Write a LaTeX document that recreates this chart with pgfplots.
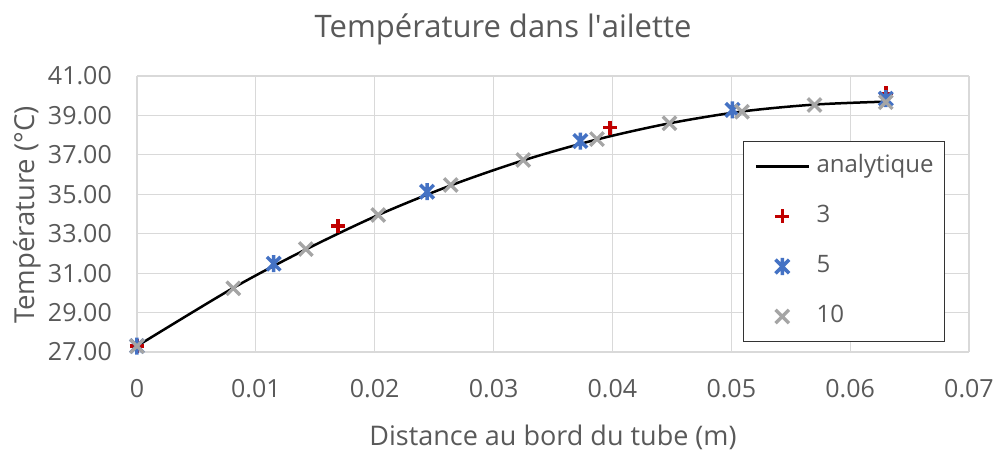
\documentclass[border=0pt]{standalone}
\usepackage{pgfplots}
\pgfplotsset{compat=1.18}
\usepackage{fontspec}
\setmainfont{Open Sans}
\definecolor{txt}{HTML}{595959}
\definecolor{grd}{HTML}{D9D9D9}
\definecolor{cred}{HTML}{C00000}
\definecolor{cblue}{HTML}{4472C4}
\definecolor{cgray}{HTML}{A5A5A5}
\pgfdeclareplotmark{xstar}{%
  \pgfpathmoveto{\pgfqpoint{-0.8\pgfplotmarksize}{-0.8\pgfplotmarksize}}%
  \pgfpathlineto{\pgfqpoint{0.8\pgfplotmarksize}{0.8\pgfplotmarksize}}%
  \pgfpathmoveto{\pgfqpoint{-0.8\pgfplotmarksize}{0.8\pgfplotmarksize}}%
  \pgfpathlineto{\pgfqpoint{0.8\pgfplotmarksize}{-0.8\pgfplotmarksize}}%
  \pgfpathmoveto{\pgfqpoint{0pt}{-\pgfplotmarksize}}%
  \pgfpathlineto{\pgfqpoint{0pt}{\pgfplotmarksize}}%
  \pgfusepathqstroke}
\begin{document}
\begin{tikzpicture}
\useasboundingbox (-137pt,-100pt) rectangle (861pt,352pt);
\begin{axis}[
  at={(0pt,0pt)}, anchor=south west,
  scale only axis, width=832pt, height=276pt,
  xmin=0, xmax=0.07, ymin=27, ymax=41,
  clip=false,
  scaled x ticks=false, scaled y ticks=false,
  xtick={0,0.01,0.02,0.03,0.04,0.05,0.06,0.07},
  xticklabels={0,0.01,0.02,0.03,0.04,0.05,0.06,0.07},
  ytick={27,29,31,33,35,37,39,41},
  yticklabels={27.00,29.00,31.00,33.00,35.00,37.00,39.00,41.00},
  grid=major, major grid style={draw=grd, line width=1.2pt},
  axis line style={draw=none}, major tick length=0pt,
  tick label style={font=\fontsize{25}{30}\selectfont, text=txt, inner sep=0pt},
  yticklabel style={anchor=east, xshift=-25pt},
  xticklabel style={anchor=north, yshift=-27pt},
  title={Température dans l\textquotesingle ailette},
  title style={font=\fontsize{31}{36}\selectfont, text=txt, anchor=base, yshift=0pt, at={(axis description cs:0.44,1.118)}, inner sep=0pt},
  xlabel={Distance au bord du tube (m)},
  xlabel style={font=\fontsize{27}{32}\selectfont, text=txt, anchor=base, at={(axis description cs:0.5,-0.337)}, inner sep=0pt},
  ylabel={Température (°C)},
  ylabel style={font=\fontsize{27.5}{32}\selectfont, text=txt, anchor=center, at={(axis description cs:-0.1322,0.496)}, inner sep=0pt},
  legend style={at={(rel axis cs:0.7284,0.7645)}, anchor=north west, draw=black!80, line width=1pt,
    font=\fontsize{24}{28}\selectfont, text=txt, inner xsep=11pt, inner ysep=13pt, row sep=26pt,
    nodes={inner sep=0pt, text height=18pt, text depth=6pt}},
  legend cell align=left,
  legend image code/.code={\draw[mark repeat=2,mark phase=2,#1] plot coordinates {(0pt,0pt) (26.5pt,0pt) (53pt,0pt)}; \path (59pt,0pt);},
]
\addplot[black, line width=2.5pt, smooth, no markers] coordinates {
 (0,27.3) (0.0081,30.25) (0.0142,32.2) (0.0203,33.95) (0.0264,35.45)
 (0.0325,36.72) (0.0387,37.78) (0.0448,38.6) (0.0509,39.2) (0.057,39.55) (0.063,39.7)};
\addlegendentry{analytique}
\addplot[only marks, mark=+, mark size=7pt, line width=3.5pt, cred] coordinates {
 (0,27.3) (0.0169,33.39) (0.0398,38.38) (0.0630,40.12)};
\addlegendentry{3}
\addplot[only marks, mark=xstar, mark size=8.5pt, line width=3.5pt, cblue] coordinates {
 (0,27.3) (0.0115,31.48) (0.0244,35.13) (0.0373,37.70) (0.0501,39.28) (0.0630,39.85)};
\addlegendentry{5}
\addplot[only marks, mark=x, mark size=9.5pt, line width=3.3pt, cgray] coordinates {
 (0,27.3) (0.0081,30.23) (0.0142,32.22) (0.0203,33.95) (0.0264,35.47) (0.0325,36.74)
 (0.0387,37.80) (0.0448,38.60) (0.0509,39.19) (0.0570,39.53) (0.0630,39.67)};
\addlegendentry{10}
\end{axis}
\end{tikzpicture}
\end{document}
